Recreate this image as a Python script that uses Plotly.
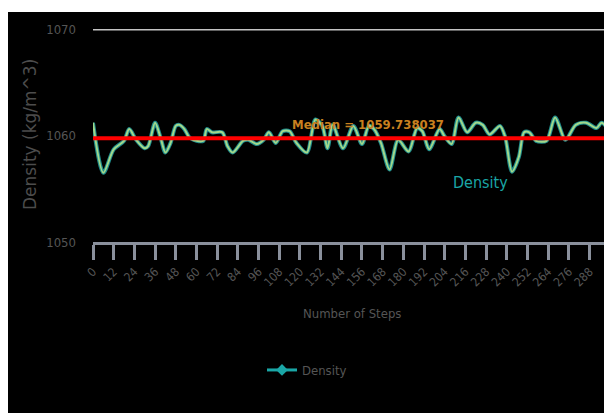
import plotly.graph_objects as go

# ---- data ----
steps = [0, 6, 12, 18, 21, 25, 30, 32, 36, 39, 42, 45, 48, 50, 53, 56, 60, 64, 66, 69,
         75, 78, 81, 87, 90, 95, 99, 102, 106, 110, 114, 118, 124, 129, 133, 136, 139,
         145, 151, 156, 160, 163, 167, 172, 177, 183, 188, 191, 195, 201, 204, 208, 212,
         217, 222, 226, 230, 236, 239, 243, 247, 250, 253, 257, 263, 268, 274, 280, 286,
         292, 295, 300]
density = [1061.2, 1056.5, 1058.7, 1059.5, 1060.6, 1059.6, 1058.8, 1059.0, 1061.2, 1059.9,
           1058.4, 1059.3, 1060.9, 1061.0, 1060.6, 1059.8, 1059.5, 1059.5, 1060.6, 1060.3,
           1060.3, 1059.0, 1058.4, 1059.5, 1059.6, 1059.2, 1059.6, 1060.3, 1059.3, 1060.4,
           1060.4, 1059.3, 1058.4, 1061.5, 1060.9, 1058.8, 1061.0, 1058.8, 1060.9, 1059.2,
           1060.9, 1060.6, 1059.3, 1056.8, 1059.6, 1058.5, 1060.7, 1060.4, 1058.7, 1060.6,
           1059.9, 1059.2, 1061.7, 1060.3, 1061.2, 1061.0, 1060.1, 1060.9, 1059.9, 1056.6,
           1058.0, 1060.3, 1060.3, 1059.5, 1059.5, 1061.7, 1059.6, 1061.0, 1061.2, 1060.7,
           1061.2, 1060.3]
median_value = 1059.738037
median_label = "Median = 1059.738037"
x_tick_vals = list(range(0, 301, 12))
y_tick_vals = [1050, 1060, 1070]
series_name = "Density"
x_title = "Number of Steps"
y_title = "Density (kg/m^3)"

GRAY = "#555555"
TEAL = "#1aa6a6"
NARROW = "Liberation Sans Narrow, DejaVu Sans Condensed, Arial Narrow, sans-serif"

fig = go.Figure()
fig.add_trace(go.Scatter(x=steps, y=density, mode="lines",
                         line=dict(color="#1f8c8c", width=4, shape="spline", smoothing=0.8),
                         showlegend=False, hoverinfo="skip"))
fig.add_trace(go.Scatter(x=steps, y=density, mode="lines", name=series_name,
                         line=dict(color="#a2d88a", width=2, shape="spline", smoothing=0.8),
                         showlegend=False))
fig.add_trace(go.Scatter(x=[None], y=[None], mode="lines+markers", name=series_name,
                         line=dict(color=TEAL, width=3),
                         marker=dict(symbol="diamond", size=9, color=TEAL)))

# top gridline
fig.add_shape(type="line", xref="paper", x0=0, x1=1, yref="y",
              y0=y_tick_vals[-1], y1=y_tick_vals[-1],
              line=dict(color="#c4c4c4", width=3), layer="below")
# median line
fig.add_shape(type="line", xref="paper", x0=0, x1=1, yref="y",
              y0=median_value, y1=median_value,
              line=dict(color="#ff0000", width=4), layer="above")

fig.add_annotation(x=114, y=1061.05, xref="x", yref="y", text="<b>" + median_label + "</b>",
                   showarrow=False, xanchor="left", yanchor="middle",
                   font=dict(family=NARROW, size=13, color="#c9801f"))
fig.add_annotation(x=225, y=1055.55, xref="x", yref="y", text=series_name,
                   showarrow=False, xanchor="center", yanchor="middle",
                   font=dict(family=NARROW, size=16, color=TEAL))

# axis titles
fig.add_annotation(x=(352 - 93) / 519, y=(242 - 313) / 213, xref="paper", yref="paper",
                   text=x_title, showarrow=False, xanchor="center", yanchor="middle",
                   font=dict(family=NARROW, size=13, color=GRAY))
fig.add_annotation(x=(30 - 93) / 519, y=(242 - 135) / 213, xref="paper", yref="paper",
                   text=y_title, showarrow=False, xanchor="center", yanchor="middle",
                   textangle=-90, font=dict(family="DejaVu Sans", size=17, color="#4c4c4c"))

# thin white strip at the top of the page
fig.add_shape(type="rect", xref="paper", yref="paper",
              x0=-0.2, x1=1.05, y0=1 + 17 / 213, y1=1 + 22 / 213,
              fillcolor="white", line=dict(width=0), layer="above")

fig.update_layout(
    width=604, height=405,
    margin=dict(l=85, r=0, t=21, b=171),
    paper_bgcolor="black", plot_bgcolor="black",
    showlegend=True,
    legend=dict(x=(262 - 93) / 519, y=(242 - 370) / 213, xanchor="left", yanchor="middle",
                font=dict(family=NARROW, size=13, color=GRAY), bgcolor="rgba(0,0,0,0)"),
    xaxis=dict(range=[0, 301], tickvals=x_tick_vals, tickangle=-45,
               ticks="outside", ticklen=15, tickwidth=3, tickcolor="#8a909c",
               showline=True, linecolor="#8a909c", linewidth=3,
               showgrid=False, zeroline=False,
               tickfont=dict(family=NARROW, size=12, color=GRAY)),
    yaxis=dict(range=[1050, 1070], tickvals=y_tick_vals, showgrid=False,
               zeroline=False, showline=False,
               ticks="", ticklabelstandoff=16,
               tickfont=dict(family=NARROW, size=13, color=GRAY)),
)

fig.write_html("out.html")
